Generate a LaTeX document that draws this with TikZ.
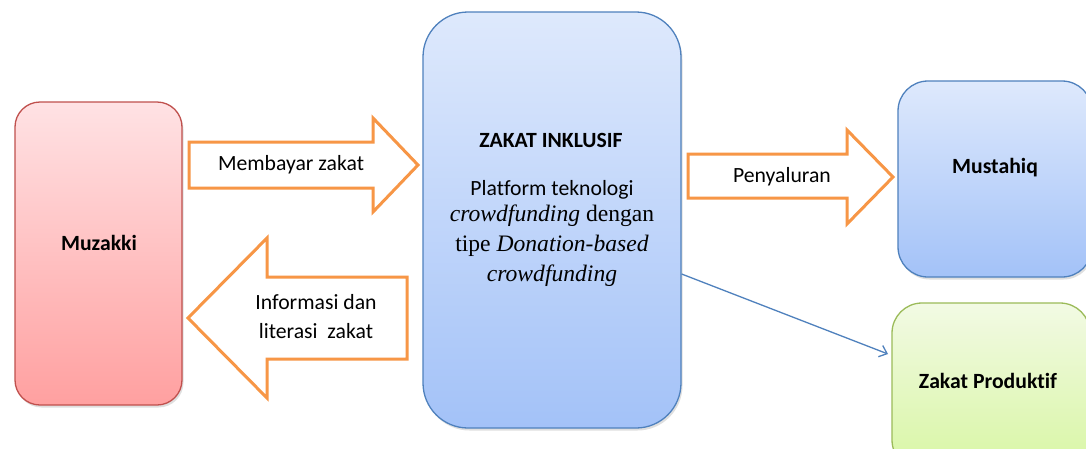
\documentclass[tikz,border=0pt]{standalone}
\usepackage{fontspec}
\setmainfont{Carlito}[Ligatures=NoCommon]
\newfontfamily\serifit{Liberation Serif}
\usetikzlibrary{shadows,arrows.meta}
\definecolor{orangeA}{HTML}{F79646}
\definecolor{redB}{HTML}{C0504D}
\definecolor{blueB}{HTML}{4F81BD}
\definecolor{greenB}{HTML}{9BBB59}
\tikzset{
  box/.style={draw, line width=1.3pt, inner sep=0pt,
    drop shadow={shadow xshift=1.5pt, shadow yshift=-2.5pt, opacity=0.25}},
  redbox/.style={box, draw=redB, top color={rgb,255:red,255;green,226;blue,228}, bottom color={rgb,255:red,255;green,160;blue,160}},
  bluebox/.style={box, draw=blueB, top color={rgb,255:red,222;green,233;blue,252}, bottom color={rgb,255:red,163;green,194;blue,248}},
  greenbox/.style={box, draw=greenB, top color={rgb,255:red,242;green,250;blue,228}, bottom color={rgb,255:red,216;green,246;blue,164}},
  blockarrow/.style={draw=orangeA, line width=3pt, fill=white, line join=miter},
  lbl/.style={font=\fontsize{21.7}{25}\selectfont, inner sep=0pt},
  blbl/.style={font=\fontsize{21.7}{25}\selectfont\bfseries, inner sep=0pt},
  slbl/.style={font=\fontsize{23.6}{30}\selectfont\serifit, inner sep=0pt},
}
\begin{document}
\begin{tikzpicture}[x=1pt,y=-1pt]
\useasboundingbox (0,0) rectangle (1086,448);
\fill[white] (0,0) rectangle (1086,448);
% boxes
\node[redbox, rounded corners=25pt, minimum width=167pt, minimum height=303pt] (muz) at (98.5,253.5) {};
\node[bluebox, rounded corners=45pt, minimum width=258pt, minimum height=416pt] (zi) at (552,220) {};
\node[bluebox, rounded corners=30pt, minimum width=194pt, minimum height=196pt] (mus) at (995,179) {};
\node[greenbox, rounded corners=30pt, minimum width=198pt, minimum height=167pt] (zp) at (991,386.5) {};
% texts in boxes
\node[blbl] (tmuz) at (99,243) {Muzakki};
\node[blbl] (tzi) at (551,140) {ZAKAT INKLUSIF};
\node[lbl] (tpl) at (552,190) {Platform teknologi};
\node[slbl] (tcr) at (552,216) {\textit{crowdfunding} dengan};
\node[slbl] (ttp) at (552,246) {tipe \textit{Donation-based}};
\node[slbl] (tcr2) at (552,276) {\textit{crowdfunding}};
\node[blbl] (tmus) at (995,168) {Mustahiq};
\node[blbl] (tzp) at (988,381) {Zakat Produktif};
% block arrows
\draw[blockarrow] (189,142) -- (373,142) -- (373,118) -- (418,165) -- (373,212) -- (373,188) -- (189,188) -- cycle;
\node[lbl] (a1) at (291,165) {Membayar zakat};
\draw[blockarrow] (407,277) -- (267,277) -- (267,238) -- (188,318) -- (267,398) -- (267,359) -- (407,359) -- cycle;
\node[lbl] (a2) at (316,302) {Informasi dan};
\node[lbl] (a3) at (316,331) {literasi\ \ zakat};
\draw[blockarrow] (688,154) -- (847,154) -- (847,130) -- (893,177) -- (847,224) -- (847,198) -- (688,198) -- cycle;
\node[lbl] (a4) at (782,177) {Penyaluran};
% thin connector
\coordinate (c1) at (zi.east |- 0,274);
\coordinate (c2) at (888,354);
\draw[blueB, line width=1.3pt, -{Straight Barb[length=7pt,width=12pt]}] (c1) -- (c2);
\end{tikzpicture}
\end{document}
